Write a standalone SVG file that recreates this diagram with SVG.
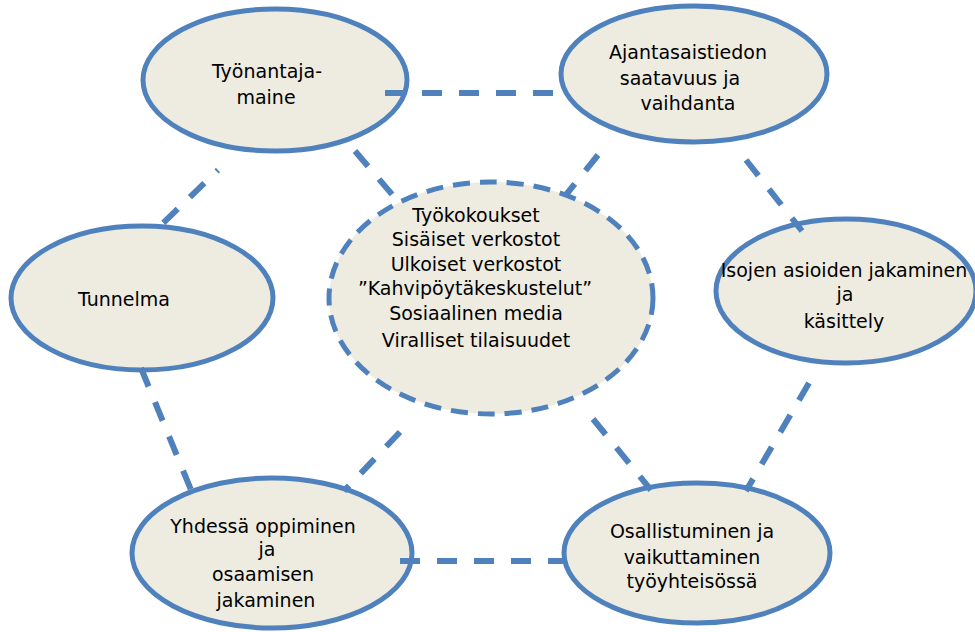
<svg xmlns="http://www.w3.org/2000/svg" width="975" height="632" viewBox="0 0 975 632">
  <style>
    .node { fill: #eeece1; stroke: #4f81bd; stroke-width: 5; }
    .hub { fill: #eeece1; stroke: #4f81bd; stroke-width: 5; stroke-dasharray: 17 10; }
    .link { stroke: #4f81bd; stroke-width: 6; stroke-dasharray: 20 17; fill: none; }
    text { font-family: "DejaVu Sans", Verdana, sans-serif; font-size: 19px; fill: #000; text-anchor: middle; }
  </style>
  <rect width="975" height="632" fill="#ffffff"/>

  <g id="n-tyonantaja"><ellipse class="node" cx="275" cy="80" rx="132" ry="71"/></g>
  <g id="n-ajantasa"><ellipse class="node" cx="694" cy="74" rx="133" ry="68"/></g>
  <g id="n-tunnelma"><ellipse class="node" cx="142" cy="298" rx="131" ry="72"/></g>
  <g id="n-keskus"><ellipse class="hub" cx="491" cy="298" rx="162" ry="116"/></g>
  <g id="n-isojen"><ellipse class="node" cx="846" cy="291" rx="130" ry="72"/></g>
  <g id="n-yhdessa"><ellipse class="node" cx="272" cy="553" rx="140" ry="75"/></g>
  <g id="n-osallistuminen"><ellipse class="node" cx="697" cy="553" rx="133" ry="70"/></g>

  <g id="connectors">
    <line class="link" x1="385" y1="93" x2="558" y2="93"/>
    <line class="link" x1="400" y1="561" x2="566" y2="561"/>
    <line class="link" x1="355" y1="151" x2="396" y2="199"/>
    <line class="link" x1="598" y1="155" x2="565" y2="196"/>
    <line class="link" x1="746" y1="160" x2="802" y2="231"/>
    <line class="link" x1="218" y1="170" x2="160" y2="226" stroke-dashoffset="18"/>
    <line class="link" x1="141" y1="368" x2="191" y2="490"/>
    <line class="link" x1="400" y1="432" x2="344" y2="491"/>
    <line class="link" x1="593" y1="419" x2="651" y2="490"/>
    <line class="link" x1="809" y1="383" x2="746" y2="491"/>
  </g>

  <g id="labels">
    <text x="267" y="78">Työnantaja-</text>
    <text x="266" y="104">maine</text>

    <text x="688" y="59">Ajantasaistiedon</text>
    <text x="680" y="85">saatavuus ja</text>
    <text x="688" y="110">vaihdanta</text>

    <text x="124" y="306">Tunnelma</text>

    <text x="476" y="222">Työkokoukset</text>
    <text x="476" y="246">Sisäiset verkostot</text>
    <text x="476" y="271">Ulkoiset verkostot</text>
    <text x="475" y="295">”Kahvipöytäkeskustelut”</text>
    <text x="476" y="320">Sosiaalinen media</text>
    <text x="476" y="347">Viralliset tilaisuudet</text>

    <text x="844" y="277">Isojen asioiden jakaminen</text>
    <text x="845" y="301">ja</text>
    <text x="844" y="328">käsittely</text>

    <text x="263" y="533">Yhdessä oppiminen</text>
    <text x="267" y="556">ja</text>
    <text x="263" y="581">osaamisen</text>
    <text x="266" y="607">jakaminen</text>

    <text x="692" y="538">Osallistuminen ja</text>
    <text x="692" y="564">vaikuttaminen</text>
    <text x="692" y="588">työyhteisössä</text>
  </g>
</svg>
